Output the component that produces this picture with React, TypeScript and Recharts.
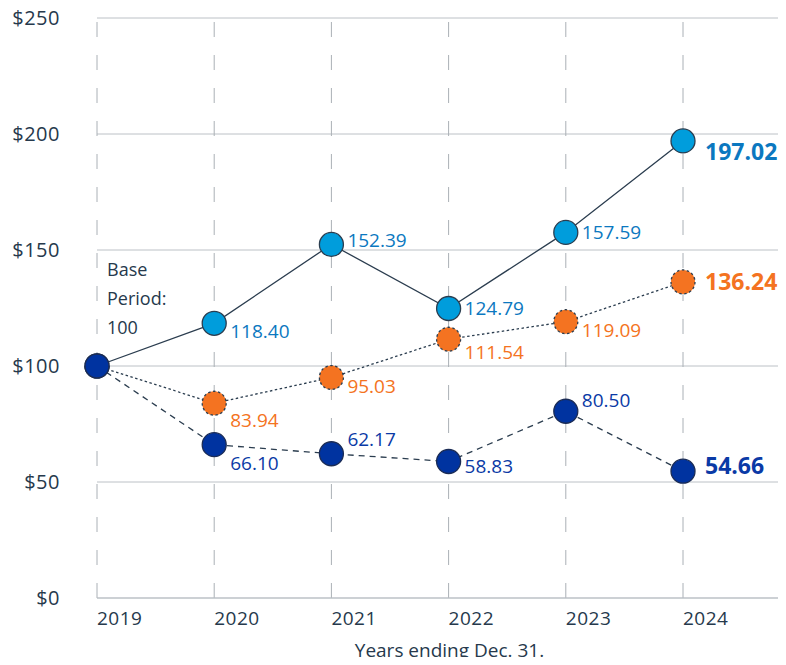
import { LineChart, Line, XAxis, YAxis, CartesianGrid, ReferenceLine, LabelList, Label } from 'recharts';

const years = ['2019', '2020', '2021', '2022', '2023', '2024'];
const lightBlueValues = [100, 118.4, 152.39, 124.79, 157.59, 197.02];
const orangeValues = [100, 83.94, 95.03, 111.54, 119.09, 136.24];
const darkBlueValues = [100, 66.1, 62.17, 58.83, 80.5, 54.66];
const yTicks = [0, 50, 100, 150, 200, 250];
const baseText = ['Base', 'Period:', '100'];

const data = years.map((year, i) => ({
  year,
  lightBlue: lightBlueValues[i],
  orange: orangeValues[i],
  darkBlue: darkBlueValues[i],
}));

// vertical nudges for the value labels (px)
const lightBlueShift = [0, 8, -4, 0, 0, 11];
const orangeShift = [0, 17, 9, 13, 9, 0];
const darkBlueShift = [0, 19, -14, 5, -11, -5];

const INK = '#26394c';
const LINE = '#2b3d4f';
const FONT = '"Open Sans", sans-serif';

function valueLabel(color: string, shifts: number[], withBase = false) {
  return (props: any) => {
    const { x, y, index, value } = props;
    if (index === 0) {
      if (!withBase) return null;
      return (
        <g>
          {baseText.map((t, k) => (
            <text key={t} x={x + 10} y={y - 96 + k * 29} dy="0.35em" fill={INK} fontSize={18}>
              {t}
            </text>
          ))}
        </g>
      );
    }
    const last = index === years.length - 1;
    return (
      <text
        x={x + (last ? 22 : 16)}
        y={y + shifts[index]}
        dy="0.35em"
        fill={color}
        fontSize={last ? 23 : 19}
        fontWeight={last ? 700 : 400}
      >
        {Number(value).toFixed(2)}
      </text>
    );
  };
}

const YearTick = ({ x, y, payload }: any) => (
  <text x={x} y={y} dy="0.71em" textAnchor="start" fill={INK} fontSize={19} letterSpacing={0.5}>
    {payload.value}
  </text>
);

export default function App() {
  return (
    <div style={{ margin: -8, fontFamily: FONT }}>
      <LineChart width={786} height={665} data={data} margin={{ top: 18, right: 0, left: 0, bottom: 37 }}>
        <CartesianGrid vertical={false} stroke="#bcc1c6" />
        {years.map((yr) => (
          <ReferenceLine key={yr} x={yr} stroke="#aab0b6" strokeDasharray="15 18" />
        ))}
        <XAxis
          dataKey="year"
          padding={{ left: 0, right: 103 }}
          axisLine={{ stroke: '#bcc1c6' }}
          tickLine={false}
          tickSize={0}
          tickMargin={14}
          height={30}
          tick={<YearTick />}
        >
          <Label value="Years ending Dec. 31." position="bottom" offset={16} dx={8} fill={INK} fontSize={19} />
        </XAxis>
        <YAxis
          domain={[0, 250]}
          ticks={yTicks}
          width={97}
          axisLine={false}
          tickLine={false}
          tickSize={0}
          tickMargin={37}
          tickFormatter={(v: number) => `$${v}`}
          tick={{ fill: INK, fontSize: 20, letterSpacing: 0.5 }}
        />
        <Line
          type="linear"
          dataKey="lightBlue"
          stroke={LINE}
          strokeWidth={1.3}
          dot={{ r: 12, fill: '#009ddc', stroke: LINE, strokeWidth: 1.3, strokeDasharray: 'none' }}
          activeDot={false}
          isAnimationActive={false}
        >
          <LabelList dataKey="lightBlue" content={valueLabel('#0b78c0', lightBlueShift)} />
        </Line>
        <Line
          type="linear"
          dataKey="orange"
          stroke={LINE}
          strokeWidth={1.3}
          strokeDasharray="2.5 2.5"
          dot={{ r: 12, fill: '#f47321', stroke: LINE, strokeWidth: 1.3, strokeDasharray: '2.5 2.5' }}
          activeDot={false}
          isAnimationActive={false}
        >
          <LabelList dataKey="orange" content={valueLabel('#f47321', orangeShift)} />
        </Line>
        <Line
          type="linear"
          dataKey="darkBlue"
          stroke={LINE}
          strokeWidth={1.3}
          strokeDasharray="6 5"
          dot={{ r: 12, fill: '#0033a0', stroke: '#1b2c55', strokeWidth: 1.3, strokeDasharray: 'none' }}
          activeDot={false}
          isAnimationActive={false}
        >
          <LabelList dataKey="darkBlue" content={valueLabel('#0a3aa6', darkBlueShift, true)} />
        </Line>
      </LineChart>
    </div>
  );
}
